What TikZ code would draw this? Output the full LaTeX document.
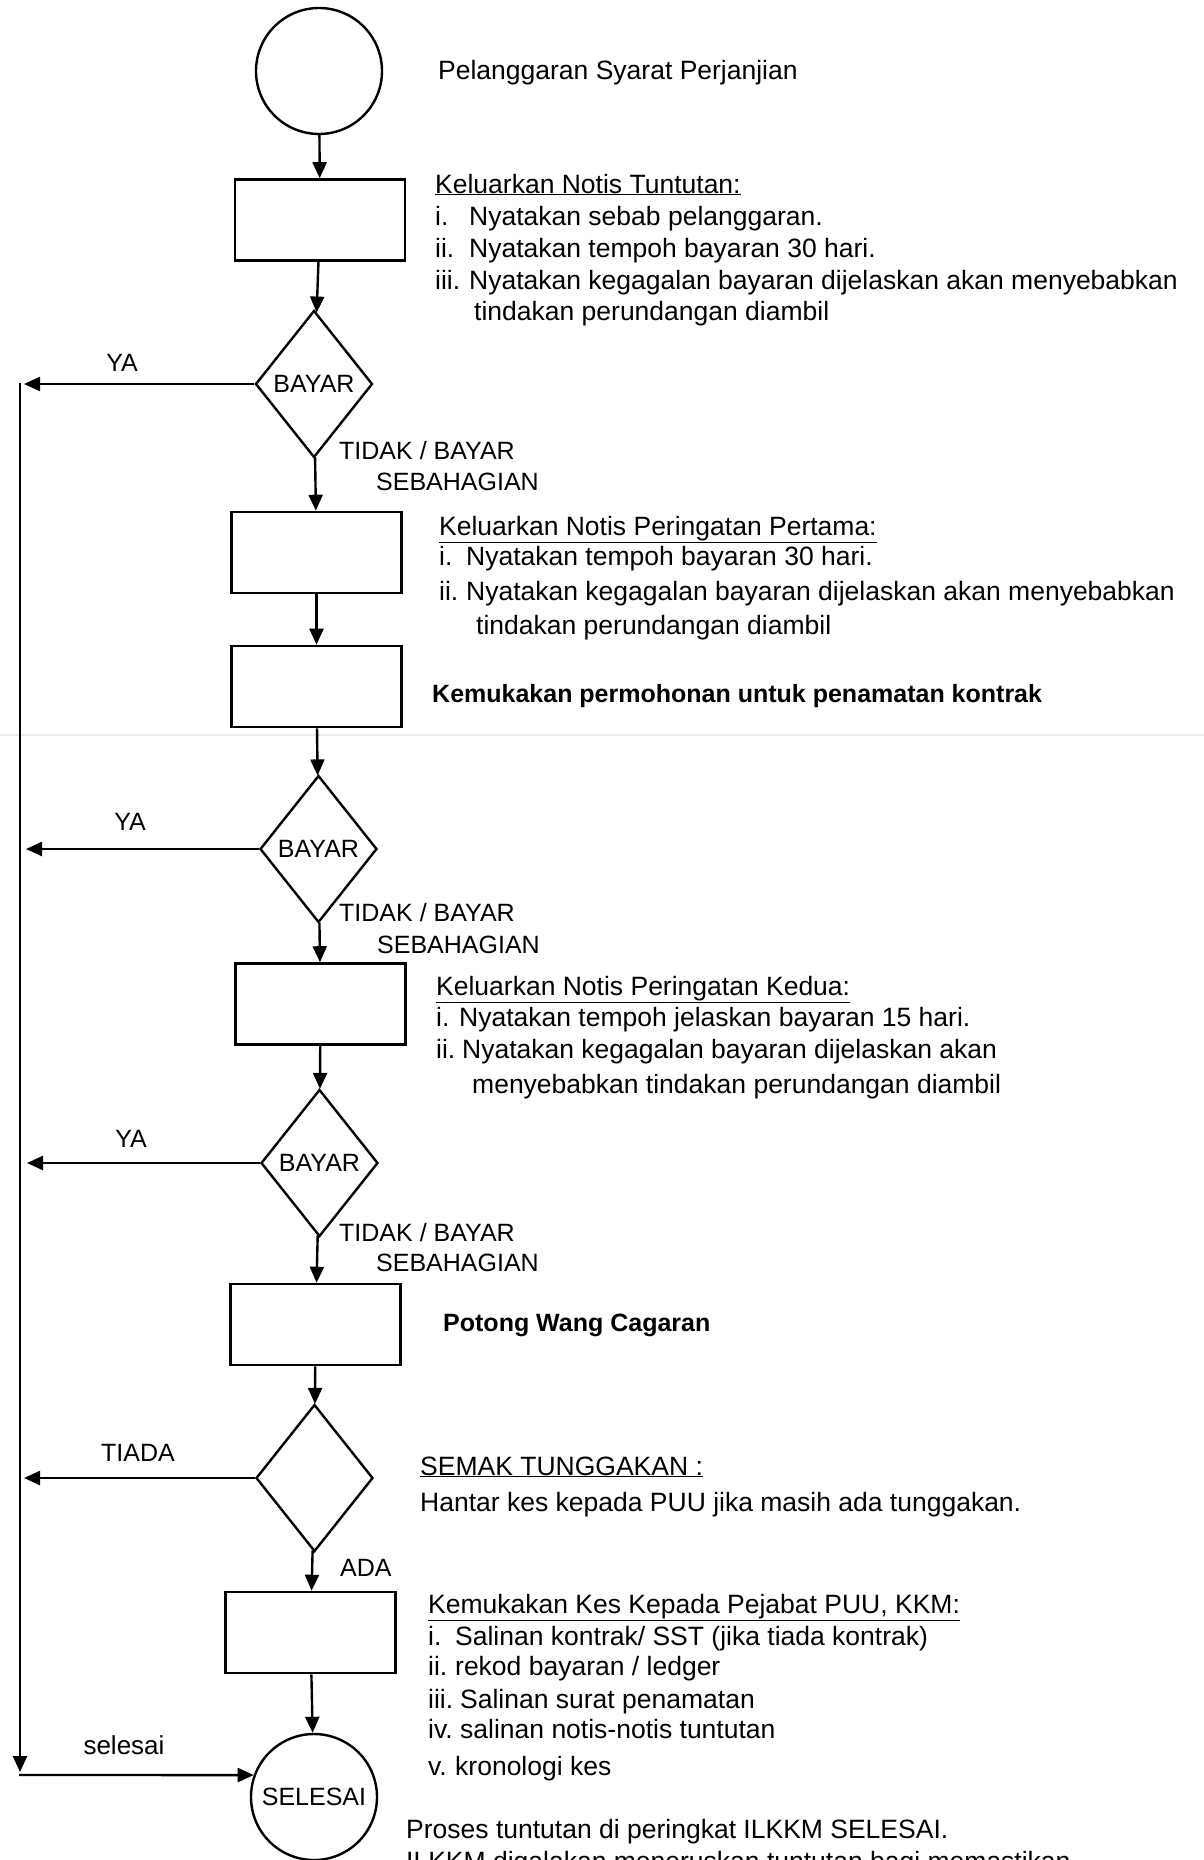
\documentclass[tikz,border=0pt]{standalone}
\usepackage{fontspec}
\setmainfont{Liberation Sans}
\usetikzlibrary{shapes.geometric,arrows.meta}
\newcommand\bodyf{\fontsize{26.5}{32}\selectfont}
\newcommand\boldf{\fontsize{25}{30}\selectfont\bfseries}
\newcommand\labf{\fontsize{25}{30}\selectfont}
\newcommand\putline[5][body]{\node[#1] (#2) at (#3,#4+8) {#5};}
\begin{document}
\begin{tikzpicture}[x=1pt,y=-1pt,
  line width=2.4pt,
  box/.style={draw, rectangle, minimum width=170pt, minimum height=81pt, inner sep=0pt, line width=2.6pt},
  dec/.style={draw, diamond, minimum width=117pt, minimum height=147pt, inner sep=0pt, line width=2.4pt, font=\labf},
  term/.style={draw, circle, minimum size=126pt, inner sep=0pt, line width=2.4pt, font=\labf},
  arr/.style={-{Triangle[length=16pt,width=14pt]}, line width=2.4pt},
  body/.style={anchor=base west, inner sep=0pt, font=\bodyf},
  bodyb/.style={anchor=base west, inner sep=0pt, font=\boldf},
  lbl/.style={anchor=base west, inner sep=0pt, font=\labf},
  lblc/.style={anchor=center, inner sep=0pt, font=\labf},
]
\useasboundingbox (0,0) rectangle (1204,1860);
\fill[white] (0,0) rectangle (1204,1860);
% faint scan seam
\draw[black!7, line width=1.5pt] (0,735) -- (1204,735);

% shapes
\node[term] (s) at (319,71) {};
\node[box] (b1) at (320,220) {};
\node[dec] (d1) at (314,384) {BAYAR};
\node[box] (b2) at (316.5,552.5) {};
\node[box] (b3) at (316.5,686.5) {};
\node[dec] (d2) at (318.5,849) {BAYAR};
\node[box] (b4) at (320.5,1004) {};
\node[dec] (d3) at (319.5,1163) {BAYAR};
\node[box] (b5) at (315.5,1324.5) {};
\node[dec] (d4) at (314.5,1478) {};
\node[box] (b6) at (310.5,1632.5) {};
\node[term] (e) at (314,1797) {SELESAI};

% main flow
\draw[arr] (s) -- (b1);
\draw[arr] (b1) -- (d1);
\draw[arr] (d1) -- (b2);
\draw[arr] (b2) -- (b3);
\draw[arr] (b3) -- (d2);
\draw[arr] (d2) -- (b4);
\draw[arr] (b4) -- (d3);
\draw[arr] (d3) -- (b5);
\draw[arr] (b5) -- (d4);
\draw[arr] (d4) -- (b6);
\draw[arr] (b6) -- (e);

% left branches
\coordinate (y1) at (24,384);
\coordinate (y2) at (26,849);
\coordinate (y3) at (27,1163);
\coordinate (y4) at (24,1478);
\coordinate (vt) at (20,383);
\coordinate (vb) at (20,1772);
\coordinate (hb) at (19,1775);
\draw[arr] (d1.west) -- (y1);
\draw[arr] (d2.west) -- (y2);
\draw[arr] (d3.west) -- (y3);
\draw[arr] (d4.west) -- (y4);
\draw[arr] (vt) -- (vb);
\draw[arr] (hb) -- (e.160);

% branch labels
\node[lblc] (ya1) at (122,363) {YA};
\node[lblc] (ya2) at (130,822) {YA};
\node[lblc] (ya3) at (131,1139) {YA};
\node[lblc] (tiada) at (138,1453) {TIADA};
\node[lblc] (sel) at (124,1745) {\fontsize{26}{30}\selectfont selesai};
\putline[lbl]{t1a}{338}{451}{TIDAK / BAYAR}
\putline[lbl]{t1b}{375}{482}{SEBAHAGIAN}
\putline[lbl]{t2a}{338}{913}{TIDAK / BAYAR}
\putline[lbl]{t2b}{376}{945}{SEBAHAGIAN}
\putline[lbl]{t3a}{338}{1233}{TIDAK / BAYAR}
\putline[lbl]{t3b}{375}{1263}{SEBAHAGIAN}
\putline[lbl]{ada}{339}{1568}{ADA}

% descriptions
\putline{p0}{437}{71}{Pelanggaran Syarat Perjanjian}

\putline{k1h}{434}{185}{\underline{Keluarkan Notis Tuntutan:}}
\putline{k1a}{434}{217}{\makebox[34pt][l]{i.}Nyatakan sebab pelanggaran.}
\putline{k1b}{434}{249}{\makebox[34pt][l]{ii.}Nyatakan tempoh bayaran 30 hari.}
\putline{k1c}{434}{281}{\makebox[34pt][l]{iii.}Nyatakan kegagalan bayaran dijelaskan akan menyebabkan}
\putline{k1d}{473}{312}{tindakan perundangan diambil}

\putline{k2h}{438}{527}{\underline{Keluarkan Notis Peringatan Pertama:}}
\putline{k2a}{438}{557}{\makebox[27pt][l]{i.}Nyatakan tempoh bayaran 30 hari.}
\putline{k2b}{438}{592}{\makebox[27pt][l]{ii.}Nyatakan kegagalan bayaran dijelaskan akan menyebabkan}
\putline{k2c}{475}{626}{tindakan perundangan diambil}

\putline[bodyb]{k3}{431}{694}{Kemukakan permohonan untuk penamatan kontrak}

\putline{k4h}{435}{987}{\underline{Keluarkan Notis Peringatan Kedua:}}
\putline{k4a}{435}{1018}{\makebox[23pt][l]{i.}Nyatakan tempoh jelaskan bayaran 15 hari.}
\putline{k4b}{435}{1050}{\makebox[26pt][l]{ii.}Nyatakan kegagalan bayaran dijelaskan akan}
\putline{k4c}{471}{1085}{menyebabkan tindakan perundangan diambil}

\putline[bodyb]{k5}{442}{1323}{Potong Wang Cagaran}

\putline{smh}{419}{1467}{\underline{SEMAK TUNGGAKAN :}}
\putline{sma}{419}{1503}{Hantar kes kepada PUU jika masih ada tunggakan.}

\putline{k6h}{427}{1605}{\underline{Kemukakan Kes Kepada Pejabat PUU, KKM:}}
\putline{k6a}{427}{1637}{\makebox[27pt][l]{i.}Salinan kontrak/ SST (jika tiada kontrak)}
\putline{k6b}{427}{1667}{\makebox[27pt][l]{ii.}rekod bayaran / ledger}
\putline{k6c}{427}{1700}{\makebox[32pt][l]{iii.}Salinan surat penamatan}
\putline{k6d}{427}{1730}{\makebox[32pt][l]{iv.}salinan notis-notis tuntutan}
\putline{k6e}{427}{1767}{\makebox[27pt][l]{v.}kronologi kes}

\putline{pr1}{405}{1830}{Proses tuntutan di peringkat ILKKM SELESAI.}
\putline{pr2}{405}{1862}{ILKKM digalakan meneruskan tuntutan bagi memastikan}
\end{tikzpicture}
\end{document}
